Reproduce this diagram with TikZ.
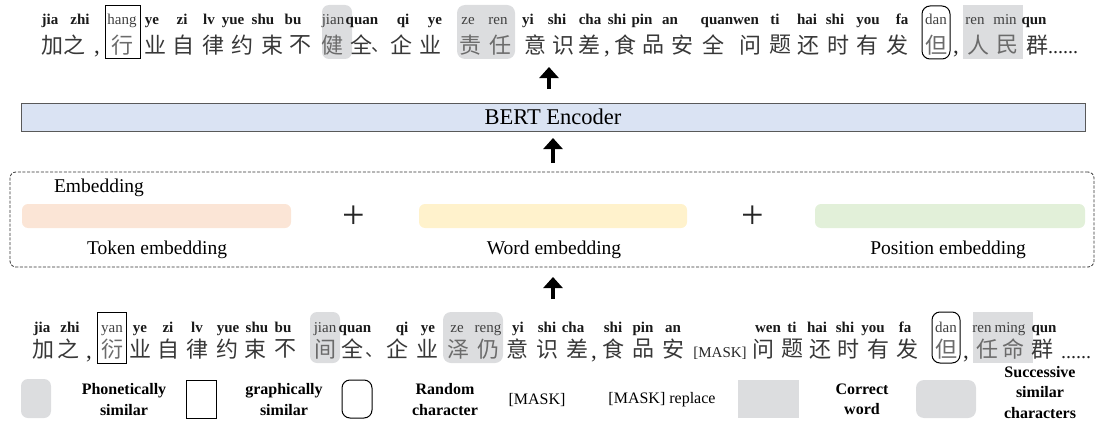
\documentclass[tikz,border=0pt]{standalone}
\usepackage{fontspec}
\setmainfont{Liberation Serif}
\newfontfamily\cjk{Noto Sans CJK SC}
\usetikzlibrary{arrows.meta}
\definecolor{hlgray}{HTML}{DCDDDF}
\definecolor{bertblue}{HTML}{DAE3F3}
\definecolor{tokpeach}{HTML}{FBE5D6}
\definecolor{wordyellow}{HTML}{FFF2CC}
\definecolor{posgreen}{HTML}{E2F0D9}

\begin{document}
\begin{tikzpicture}[x=1pt,y=-1pt,
  pyb/.style={font=\fontsize{15}{15}\selectfont\bfseries,inner sep=0pt,anchor=base,text=black!90},
  pyr/.style={font=\fontsize{15}{15}\selectfont,inner sep=0pt,anchor=base,text=black!75},
  hz/.style={font=\cjk\fontsize{22}{22}\selectfont,inner sep=0pt,text=black!78},
  hzh/.style={hz,text=black!58},
  dun/.style={font=\cjk\fontsize{18}{18}\selectfont,inner sep=0pt,anchor=base west,text=black!78},
  punct/.style={font=\fontsize{23}{23}\selectfont,inner sep=0pt,anchor=base,text=black!85},
  dots/.style={font=\fontsize{20}{20}\selectfont,inner sep=0pt,anchor=base west,text=black!85},
  masktok/.style={font=\fontsize{15}{15}\selectfont,inner sep=0pt,anchor=base,text=black!85},
  phon/.style={fill=hlgray,rounded corners=7pt},
  graph/.style={draw=black,line width=1pt},
  rand/.style={draw=black,line width=1pt,rounded corners=8pt},
  corr/.style={fill=hlgray},
  succ/.style={fill=hlgray,rounded corners=8pt},
  uparrow/.style={line width=4.5pt,-{Triangle[width=19pt,length=11pt]}},
  embtext/.style={font=\fontsize{19.5}{19.5}\selectfont,inner sep=0pt},
  embbar/.style={rounded corners=6pt},
  plussign/.style={font=\fontsize{40}{40}\selectfont,inner sep=0pt,text=black!85},
  legtext/.style={font=\fontsize{16}{20.5}\selectfont\bfseries,align=center,inner sep=0pt},
  legreg/.style={font=\fontsize{16}{20.5}\selectfont,align=center,inner sep=0pt}
]
\useasboundingbox (0,0) rectangle (1097,428);

% ---------- corrected sentence (top) ----------
\path[graph] (105,6) rectangle (140,59);
\path[phon]  (322,5) rectangle (352,59);
\path[succ]  (457,5) rectangle (515,59);
\path[rand]  (922,6) rectangle (950,59);
\path[corr]  (963,5) rectangle (1023,59);

\foreach \x/\p [count=\i] in {50/jia,80/zhi,152/ye,182/zi,209/lv,233/yue,263/shu,293/bu,362/quan,403/qi,435/ye,528/yi,557/shi,590/cha,617/shi,642/pin,670/an,717/quan,746/wen,775/ti,807/hai,835/shi,868/you,902/fa,1034/qun}
  \node[pyb] (tpb\i) at (\x,25) {\p};
\foreach \x/\p [count=\i] in {122/hang,333/jian,468/ze,498/ren,936/dan,975/ren,1005/min}
  \node[pyr] (tpr\i) at (\x,25) {\p};

\foreach \x/\c [count=\i] in {52/加,74/之,155/业,183/自,213/律,242/约,272/束,300/不,361/全,401/企,430/业,535/意,563/识,589/差,625/食,653/品,682/安,713/全,750/问,780/题,808/还,838/时,867/有,897/发,1037/群}
  \node[hz] (tc\i) at (\x,45) {\c};
\foreach \x/\c [count=\i] in {122/行,332/健,470/责,500/任,936/但,978/人,1007/民}
  \node[hzh] (th\i) at (\x,45) {\c};
\node[punct] (tcm1) at (97,54) {,};
\node[punct] (tcm2) at (607,54) {,};
\node[punct] (tcm3) at (956,54) {,};
\node[dun] (tdun) at (371,52) {、};
\node[dots] (tdots) at (1048,54) {......};

% ---------- BERT encoder ----------
\node[draw=black!65,line width=1pt,fill=bertblue,minimum width=1064pt,minimum height=28pt,
      inner sep=0pt,font=\fontsize{22.5}{22.5}\selectfont] (bert) at (553,117) {BERT Encoder};

% ---------- embedding block ----------
\node[draw=black!80,dashed,dash pattern=on 3pt off 1.6pt,line width=0.8pt,rounded corners=6pt,
      minimum width=1084pt,minimum height=95pt,inner sep=0pt] (emb) at (552,219.5) {};
\node[embtext] (embl) at (99,188) {Embedding};
\path[embbar,fill=tokpeach]   (22,204)  rectangle (291,228);
\path[embbar,fill=wordyellow] (419,204) rectangle (687,228);
\path[embbar,fill=posgreen]   (815,204) rectangle (1085,228);
\node[plussign] (plus1) at (354,217) {+};
\node[plussign] (plus2) at (753,217) {+};
\node[embtext] (tokl) at (157,250) {Token embedding};
\node[embtext] (wordl) at (554,250) {Word embedding};
\node[embtext] (posl) at (948,250) {Position embedding};

% ---------- noisy input sentence (bottom) ----------
\path[graph] (97,312) rectangle (126,363);
\path[phon]  (310,312) rectangle (340,363);
\path[succ]  (443,312) rectangle (503,363);
\path[rand]  (932,312) rectangle (960,363);
\path[corr]  (973,312) rectangle (1033,363);

\foreach \x/\p [count=\i] in {42/jia,70/zhi,140/ye,168/zi,197/lv,228/yue,257/shu,283/bu,355/quan,402/qi,428/ye,518/yi,547/shi,573/cha,613/shi,643/pin,673/an,768/wen,792/ti,817/hai,845/shi,873/you,905/fa,1044/qun}
  \node[pyb] (bpb\i) at (\x,332) {\p};
\foreach \x/\p [count=\i] in {112/yan,325/jian,457/ze,488/reng,946/dan,982/ren,1010/ming}
  \node[pyr] (bpr\i) at (\x,332) {\p};

\foreach \x/\c [count=\i] in {43/加,68/之,140/业,168/自,197/律,227/约,255/束,285/不,352/全,397/企,427/业,517/意,547/识,577/差,613/食,643/品,673/安,763/问,792/题,820/还,848/时,878/有,907/发,1042/群}
  \node[hz] (bc\i) at (\x,349) {\c};
\foreach \x/\c [count=\i] in {112/衍,325/间,458/泽,488/仍,946/但,987/任,1013/命}
  \node[hzh] (bh\i) at (\x,349) {\c};
\node[punct] (bcm1) at (89,358) {,};
\node[punct] (bcm2) at (594,358) {,};
\node[punct] (bcm3) at (966,358) {,};
\node[dun] (bdun) at (365,356) {、};
\node[masktok] (bmask) at (720,357) {[MASK]};
\node[dots] (bdots) at (1061,358) {......};

% ---------- flow arrows ----------
\coordinate (a1s) at (549,89);  \coordinate (a1e) at (549,67);
\coordinate (a2s) at (553,163); \coordinate (a2e) at (553,138);
\coordinate (a3s) at (553,299); \coordinate (a3e) at (553,277);
\draw[uparrow] (a1s) -- (a1e);
\draw[uparrow] (a2s) -- (a2e);
\draw[uparrow] (a3s) -- (a3e);

% ---------- legend ----------
\path[phon] (21,379) rectangle (51,418);
\node[legtext] (lg1) at (124,399.5) {Phonetically\\similar};
\path[graph] (186,380) rectangle (216,418);
\node[legtext] (lg2) at (284,399.5) {graphically\\similar};
\path[rand] (342,380) rectangle (372,418);
\node[legtext] (lg3) at (445,399.5) {Random\\character};
\node[legreg] (lg4) at (537,400) {[MASK]};
\node[legreg] (lg5) at (662,400) {[MASK] replace};
\path[corr] (738,380) rectangle (799,418);
\node[legtext] (lg6) at (862,399.5) {Correct\\word};
\path[succ] (916,380) rectangle (976,418);
\node[legtext] (lg7) at (1040,392.5) {Successive\\similar\\characters};

\end{tikzpicture}
\end{document}
